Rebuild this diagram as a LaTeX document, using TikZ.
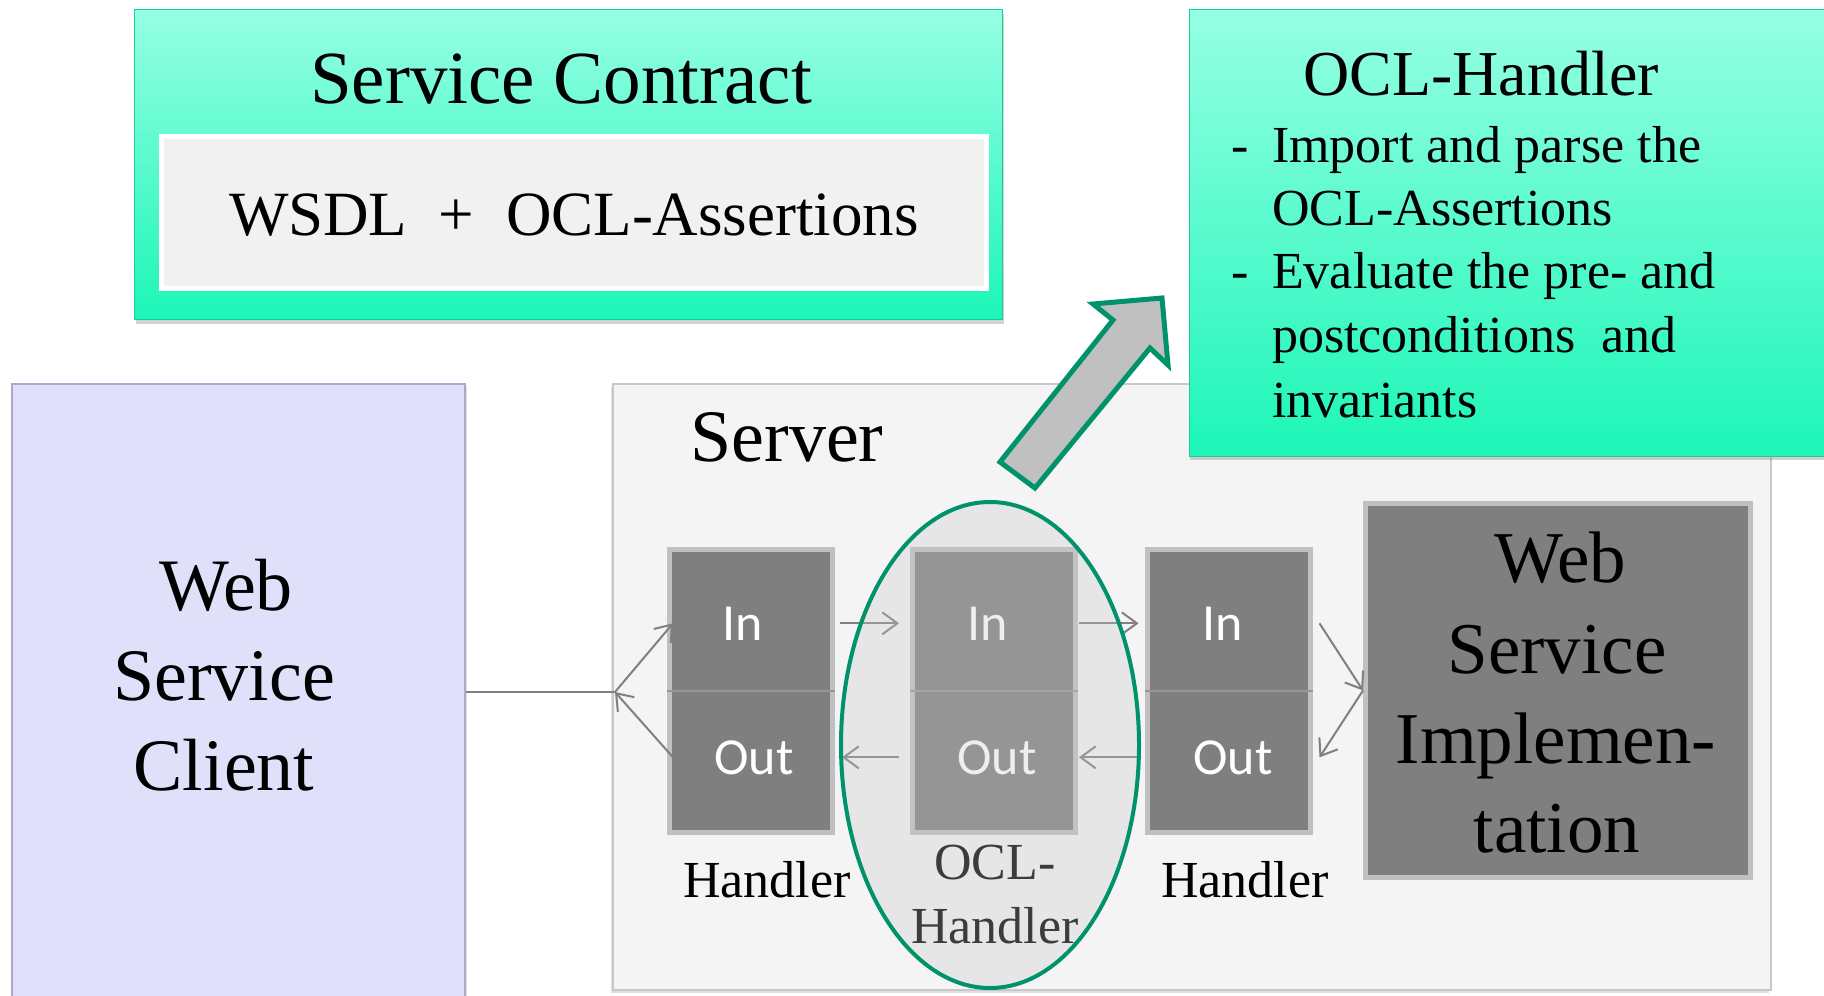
\documentclass[tikz,border=0pt]{standalone}
\usepackage{fontspec}
\setmainfont{Liberation Serif}
\newfontfamily\inoutfont{Carlito}
\usetikzlibrary{arrows.meta,shadows,shapes.geometric,calc}
\definecolor{tealtop}{RGB}{150,255,228}
\definecolor{tealbot}{RGB}{28,246,183}
\definecolor{tealedge}{RGB}{24,205,152}
\definecolor{ocgreen}{RGB}{0,147,107}
\definecolor{lavender}{RGB}{224,224,251}
\definecolor{lavedge}{RGB}{170,170,205}
\definecolor{servbg}{RGB}{244,244,244}
\definecolor{servedge}{RGB}{200,200,200}
\definecolor{hdark}{RGB}{127,127,127}
\definecolor{hedge}{RGB}{192,192,192}
\definecolor{hdiv}{RGB}{150,150,150}
\definecolor{arrgray}{RGB}{128,128,128}
\definecolor{ovgray}{RGB}{200,200,200}
\definecolor{wsdlbg}{RGB}{241,241,241}
\newcommand\myfs[2]{\fontsize{#1pt}{#2pt}\selectfont}
\begin{document}
\begin{tikzpicture}[x=1pt,y=-1pt,
  tealbox/.style={draw=tealedge, line width=1pt, top color=tealtop, bottom color=tealbot,
    inner sep=0pt, drop shadow={shadow xshift=1pt,shadow yshift=-4pt,opacity=0.35}},
  handlerbox/.style={draw=hedge, fill=hdark, line width=5pt, inner sep=0pt,
    minimum width=163pt, minimum height=283pt},
  inout/.style={font=\inoutfont\myfs{52}{62}, text=white, inner sep=0pt, anchor=base},
  lbl/.style={font=\myfs{52}{62}, inner sep=0pt, anchor=base},
  bigtxt/.style={font=\myfs{74}{90}, inner sep=0pt, anchor=base},
  bullettxt/.style={font=\myfs{52}{64}, inner sep=0pt, anchor=base west},
  arr/.style={draw=arrgray, line width=2pt, -{Straight Barb[length=15pt,width=22pt]}},
  conn/.style={draw=arrgray, line width=2pt}
]
\useasboundingbox (0,0) rectangle (1824,996);
\fill[white] (0,0) rectangle (1824,996);

% Service contract
\node[tealbox, minimum width=868pt, minimum height=310pt] (sc) at (568.5,164.5) {};
\node[draw=white, fill=wsdlbg, line width=5pt, inner sep=0pt, minimum width=825pt, minimum height=152pt] (wsdl) at (574,212.5) {};
\node[font=\myfs{75}{90}, inner sep=0pt, anchor=base] (sctitle) at (561,103) {Service Contract};
\node[font=\myfs{63}{76}, inner sep=0pt, anchor=base] (wsdltext) at (574,235) {WSDL\ \ +\ \ OCL-Assertions};

% Client
\node[draw=lavedge, fill=lavender, line width=2pt, inner sep=0pt, minimum width=453pt, minimum height=621pt,
  drop shadow={shadow xshift=2pt,shadow yshift=-2pt,opacity=0.25}] (client) at (238.5,694.5) {};
\node[bigtxt] (cl1) at (226,610) {Web};
\node[bigtxt] (cl2) at (224,700) {Service};
\node[bigtxt] (cl3) at (224,790) {Client};

% Server
\node[draw=servedge, fill=servbg, line width=2pt, inner sep=0pt, minimum width=1158pt, minimum height=606pt,
  drop shadow={shadow xshift=-2pt,shadow yshift=-3pt,opacity=0.25}] (server) at (1192,687) {};
\node[bigtxt] (servertxt) at (787,461) {Server};

% Handlers
\node[handlerbox] (h1) at (751,691) {};
\node[handlerbox] (h2) at (994,691) {};
\node[handlerbox] (h3) at (1228.5,691) {};
\draw[hdiv, line width=1.5pt] (h1.west) -- (h1.east);
\draw[hdiv, line width=1.5pt] (h2.west) -- (h2.east);
\draw[hdiv, line width=1.5pt] (h3.west) -- (h3.east);
\node[inout] (h1in) at (743,640) {In};
\node[inout] (h1out) at (754,774) {Out};
\node[inout] (h2in) at (988,640) {In};
\node[inout] (h2out) at (997,774) {Out};
\node[inout] (h3in) at (1223,640) {In};
\node[inout] (h3out) at (1233,774) {Out};
\node[lbl] (h1lbl) at (767,897) {Handler};
\node[lbl] (h2lbla) at (995,879) {OCL-};
\node[lbl] (h2lblb) at (995,943) {Handler};
\node[lbl] (h3lbl) at (1245,897) {Handler};

% Web service implementation
\node[draw=hedge, fill=hdark, line width=5pt, inner sep=0pt, minimum width=385pt, minimum height=374pt] (wsi) at (1558,690.5) {};
\node[bigtxt, font=\myfs{73}{90}] (w1) at (1560,582) {Web};
\node[bigtxt, font=\myfs{73}{90}] (w2) at (1557,673) {Service};
\node[bigtxt, font=\myfs{73}{90}] (w3) at (1556,763) {Implemen-};
\node[bigtxt, font=\myfs{73}{90}] (w4) at (1557,852) {tation};

% Connectors
\coordinate (fork) at (615,692);
\draw[conn] (client.east |- fork) -- (fork);
\draw[arr] (fork) -- ([xshift=6pt]h1.west |- h1in.center);
\draw[arr] ([xshift=6pt]h1.west |- h1out.center) -- (fork);
\draw[arr] ([xshift=5pt]h1.east |- h1in.center) -- ([xshift=-11pt]h2.west |- h2in.center);
\draw[arr] ([xshift=1pt]h2.east |- h2in.center) -- ([xshift=-6pt]h3.west |- h3in.center);
\draw[arr] ([xshift=-8pt]h3.west |- h3out.center) -- ([xshift=1pt]h2.east |- h2out.center);
\draw[arr] ([xshift=-11pt]h2.west |- h2out.center) -- ([xshift=7pt]h1.east |- h1out.center);
\draw[arr] ([xshift=7pt]h3.east |- h3in.center) -- (wsi.west);
\draw[arr] (wsi.west) -- ([xshift=7pt]h3.east |- h3out.center);

% OCL ellipse overlay
\node[ellipse, fill=ovgray, fill opacity=0.3, draw=ocgreen, draw opacity=1, line width=4pt, inner sep=0pt,
  minimum width=298pt, minimum height=486pt] (ocl) at (990,745) {};

% OCL-Handler box
\node[tealbox, minimum width=651pt, minimum height=447pt] (och) at (1514.5,232.5) {};
\node[font=\myfs{64}{76}, inner sep=0pt, anchor=base] (ochtitle) at (1481,95) {OCL-Handler};
\node[bullettxt] (d1) at (1231,162) {-};
\node[bullettxt] (b1) at (1272,162) {Import and parse the};
\node[bullettxt] (b2) at (1272,225) {OCL-Assertions};
\node[bullettxt] (d2) at (1231,288) {-};
\node[bullettxt] (b3) at (1272,288) {Evaluate the pre- and};
\node[bullettxt] (b4) at (1272,352) {postconditions\ \ and};
\node[bullettxt] (b5) at (1272,417) {invariants};

% Big arrow
\draw[ocgreen, fill=hedge, line width=5pt, line join=miter]
  (1000,462) -- (1113,320) -- (1093,304) -- (1162,298) -- (1168,365) -- (1150,348) -- (1035,488) -- cycle;
\end{tikzpicture}
\end{document}
